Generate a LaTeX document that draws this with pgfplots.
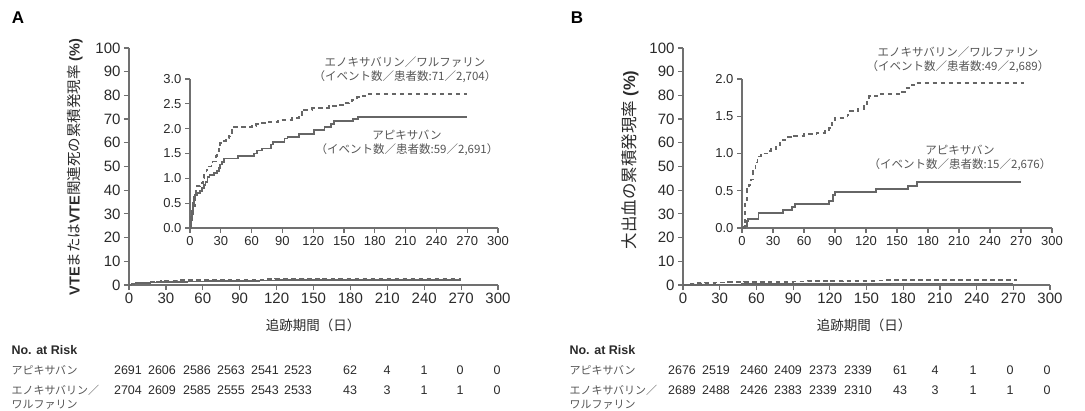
\documentclass[border=0pt]{standalone}
\usepackage{pgfplots}
\pgfplotsset{compat=1.18}
\usepackage{fontspec}
\setmainfont{Liberation Sans}
\newfontfamily\jp{Noto Sans CJK JP}
\definecolor{ln}{HTML}{666666}
\definecolor{ax}{HTML}{707070}
\definecolor{tx}{HTML}{2A2A2A}
\definecolor{lt}{HTML}{555555}

\pgfplotstableread{
t v
0 0
1 0.15
2 0.35
3 0.5
4 0.62
5 0.66
7 0.70
10 0.74
12 0.80
14 0.87
15 0.93
17 1.03
19 1.07
23 1.10
26 1.14
28 1.20
29 1.28
31 1.33
33 1.40
47 1.45
62 1.50
65 1.56
70 1.60
79 1.68
81 1.73
92 1.80
95 1.83
106 1.90
121 1.97
131 2.04
137 2.10
140 2.15
159 2.20
164 2.24
270 2.24
}\Aapix
\pgfplotstableread{
t v
0 0
1 0.23
3 0.45
4.5 0.64
6 0.78
7 0.84
10 0.90
13 1.00
14 1.07
16 1.17
18 1.24
21 1.30
22 1.34
25 1.45
26 1.54
28 1.62
29.5 1.71
33 1.75
35 1.80
38 1.85
39 1.91
41 1.97
42 2.03
60 2.06
64 2.09
67 2.11
77 2.14
86 2.18
99 2.21
106 2.28
109 2.33
111 2.38
119 2.41
135 2.45
142 2.48
149 2.52
155 2.55
158 2.58
163 2.63
168 2.66
171 2.70
270 2.70
}\Aenox
\pgfplotstableread{
t v
0 0
3 0.03
5 0.09
5.5 0.125
16 0.20
40 0.24
48 0.28
51 0.32
84 0.36
88 0.44
90 0.48
130 0.52
161 0.56
169 0.62
270 0.62
}\Bapix
\pgfplotstableread{
t v
0 0
2 0.05
3 0.38
5 0.52
7 0.58
9 0.65
11 0.76
13 0.88
15 0.96
18 1.00
26 1.03
28 1.06
33 1.09
37 1.18
42 1.22
50 1.24
60 1.26
72 1.28
80 1.31
84 1.34
87 1.41
90 1.48
102 1.52
104 1.57
112 1.60
118 1.65
121 1.72
123 1.77
131 1.80
155 1.83
158 1.88
164 1.92
167 1.95
273 1.95
}\Benox

\pgfplotsset{
  base/.style={scale only axis, anchor=south west, axis lines=left,
    axis line style={ax, line width=1.2pt, -},
    tick style={ax, line width=1.2pt}, tick align=outside, major tick length=5pt,
    xmin=0, xmax=300, xtick={0,30,...,300}, ymin=0,
    ticklabel style={tx}, /pgf/number format/assume math mode=true,
    clip=false},
  mainax/.style={base, ymax=100, ytick={0,10,...,100},
    ticklabel style={font=\fontsize{15}{15}\selectfont},
    xticklabel style={yshift=1pt}},
  inset/.style={base, ticklabel style={font=\fontsize{13}{13}\selectfont},
    yticklabel style={/pgf/number format/.cd, fixed, fixed zerofill, precision=1}},
  sol/.style={const plot, ln, line width=1.8pt},
  das/.style={const plot, ln, line width=1.8pt, dash pattern=on 4.5pt off 3.5pt},
}

\begin{document}
\begin{tikzpicture}[x=1pt,y=1pt]
\useasboundingbox (0,0) rectangle (1085,410);

% ---------- Panel A ----------
\node[font=\bfseries\fontsize{17}{17}\selectfont] at (18,392) {A};
\begin{axis}[mainax, at={(129pt,125pt)}, width=369pt, height=237pt]
\addplot[sol] table[x=t,y=v] {\Aapix};
\addplot[das] table[x=t,y=v] {\Aenox};
\end{axis}
\begin{axis}[inset, at={(190pt,182pt)}, width=308pt, height=149pt,
  ymax=3, ytick={0,0.5,...,3}]
\addplot[sol] table[x=t,y=v] {\Aapix};
\addplot[das] table[x=t,y=v] {\Aenox};
\end{axis}
\node[rotate=90, tx, font=\fontsize{14.5}{14.5}\selectfont] at (75,243)
  {\textbf{VTE}{\jp または}\textbf{VTE}{\jp 関連死の累積発現率} \textbf{(\%)}};
\node[tx, font=\jp\fontsize{13.5}{13.5}\selectfont] at (313,85) {追跡期間（日）};
\node[lt, font=\jp\fontsize{11.5}{11.5}\selectfont] at (405,348) {エノキサバリン／ワルファリン};
\node[lt, font=\jp\fontsize{11.5}{11.5}\selectfont] at (405,333) {（イベント数／患者数:71／2,704）};
\node[lt, font=\jp\fontsize{11.5}{11.5}\selectfont] at (407,275) {アピキサバン};
\node[lt, font=\jp\fontsize{11.5}{11.5}\selectfont] at (407,260) {（イベント数／患者数:59／2,691）};

% table A
\node[anchor=west, tx, font=\bfseries\fontsize{12.5}{12.5}\selectfont] at (8,60) {No. at Risk};
\node[anchor=west, lt, font=\jp\fontsize{11}{11}\selectfont] at (8,40) {アピキサバン};
\node[anchor=west, lt, font=\jp\fontsize{11}{11}\selectfont] at (8,20) {エノキサバリン／};
\node[anchor=west, lt, font=\jp\fontsize{11}{11}\selectfont] at (8,5) {ワルファリン};
\foreach \x/\a/\b in {128/2691/2704, 162/2606/2609, 197/2586/2585, 231/2563/2555,
  265/2541/2543, 298/2523/2533, 350/62/43, 387/4/3, 424/1/1, 460/0/1, 497/0/0} {
  \node[tx, font=\fontsize{12.5}{12.5}\selectfont] at (\x,40) {\a};
  \node[tx, font=\fontsize{12.5}{12.5}\selectfont] at (\x,20) {\b};
}

% ---------- Panel B ----------
\node[font=\bfseries\fontsize{17}{17}\selectfont] at (577,392) {B};
\begin{axis}[mainax, at={(683pt,125pt)}, width=367pt, height=237pt]
\addplot[sol] table[x=t,y=v] {\Bapix};
\addplot[das] table[x=t,y=v] {\Benox};
\end{axis}
\begin{axis}[inset, at={(742pt,182pt)}, width=310pt, height=149pt,
  ymax=2, ytick={0,0.5,...,2}]
\addplot[sol] table[x=t,y=v] {\Bapix};
\addplot[das] table[x=t,y=v] {\Benox};
\end{axis}
\node[rotate=90, tx, font=\fontsize{16.5}{16.5}\selectfont] at (630,250)
  {{\jp 大出血の累積発現率} \textbf{(\%)}};
\node[tx, font=\jp\fontsize{13.5}{13.5}\selectfont] at (864,85) {追跡期間（日）};
\node[lt, font=\jp\fontsize{11.5}{11.5}\selectfont] at (958,358) {エノキサバリン／ワルファリン};
\node[lt, font=\jp\fontsize{11.5}{11.5}\selectfont] at (958,343) {（イベント数／患者数:49／2,689）};
\node[lt, font=\jp\fontsize{11.5}{11.5}\selectfont] at (960,260) {アピキサバン};
\node[lt, font=\jp\fontsize{11.5}{11.5}\selectfont] at (960,245) {（イベント数／患者数:15／2,676）};

% table B
\node[anchor=west, tx, font=\bfseries\fontsize{12.5}{12.5}\selectfont] at (566,60) {No. at Risk};
\node[anchor=west, lt, font=\jp\fontsize{11}{11}\selectfont] at (566,40) {アピキサバン};
\node[anchor=west, lt, font=\jp\fontsize{11}{11}\selectfont] at (566,20) {エノキサバリン／};
\node[anchor=west, lt, font=\jp\fontsize{11}{11}\selectfont] at (566,5) {ワルファリン};
\foreach \x/\a/\b in {682/2676/2689, 716/2519/2488, 754/2460/2426, 788/2409/2383,
  823/2373/2339, 858/2339/2310, 900/61/43, 935/4/3, 973/1/1, 1010/0/1, 1047/0/0} {
  \node[tx, font=\fontsize{12.5}{12.5}\selectfont] at (\x,40) {\a};
  \node[tx, font=\fontsize{12.5}{12.5}\selectfont] at (\x,20) {\b};
}
\end{tikzpicture}
\end{document}
